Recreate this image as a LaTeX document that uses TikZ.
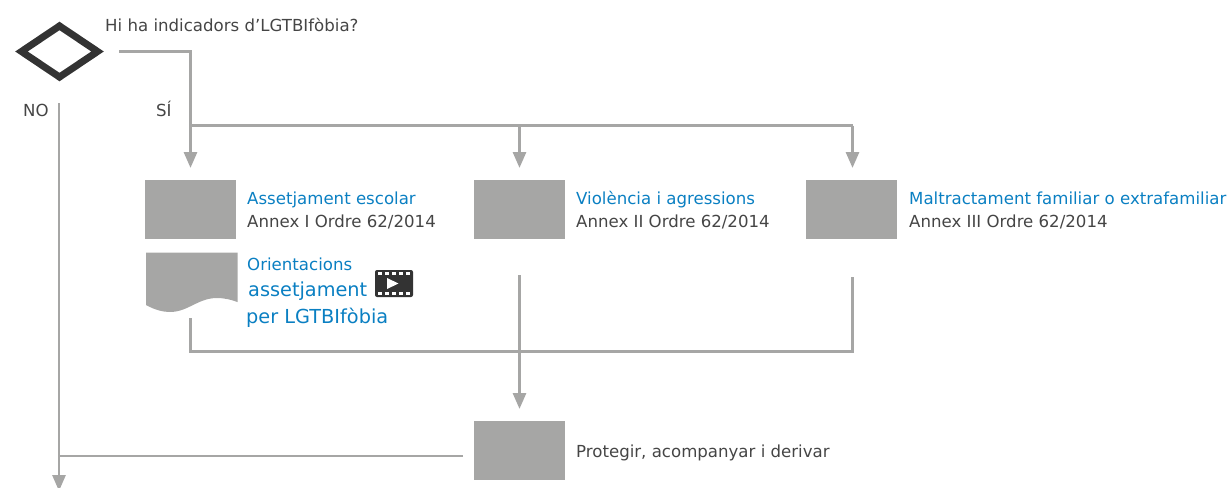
\documentclass[tikz,border=0pt]{standalone}
\usepackage{fontspec}
\setmainfont{DejaVu Sans}
\usetikzlibrary{arrows.meta,shapes.geometric}
\definecolor{linegrey}{HTML}{A6A6A5}
\definecolor{boxgrey}{HTML}{A6A6A5}
\definecolor{darktxt}{HTML}{454545}
\definecolor{bluetxt}{HTML}{0A7FC2}
\definecolor{darkic}{HTML}{333333}
\tikzset{
  x=1pt,y=-1pt,
  conn/.style={draw=linegrey,line width=2.9pt},
  arr/.style={conn,-{Triangle[width=13pt,length=16pt]}},
  grey box/.style={fill=boxgrey,minimum width=91pt,minimum height=59pt,inner sep=0,anchor=north west},
  txt/.style={inner sep=0,anchor=base west,text=darktxt,font=\fontsize{16.6pt}{20pt}\selectfont},
  link/.style={txt,text=bluetxt},
  biglink/.style={txt,text=bluetxt,font=\fontsize{19.3pt}{24pt}\selectfont},
  decision/.style={diamond,draw=darkic,line width=7pt,minimum width=79pt,minimum height=54pt,inner sep=0,aspect=1.46}
}
\begin{document}
\begin{tikzpicture}
\useasboundingbox (0,0) rectangle (1230,487);
\node[decision] (dec) at (59.5,51.5) {};
\node[txt] (q) at (105,32) {Hi ha indicadors d’LGTBIfòbia?};
\node[txt] (no) at (23,116) {NO};
\node[txt] (si) at (156,116) {SÍ};
\node[grey box] (b1) at (145,180) {};
\node[grey box] (b2) at (474,180) {};
\node[grey box] (b3) at (806,180) {};
\node[grey box] (b4) at (474,421) {};
\node[link] (t1a) at (247,204) {Assetjament escolar};
\node[txt] (t1b) at (247,227.5) {Annex I Ordre 62/2014};
\node[link] (t2a) at (576,204) {Violència i agressions};
\node[txt] (t2b) at (576,227.5) {Annex II Ordre 62/2014};
\node[link] (t3a) at (909,204) {Maltractament familiar o extrafamiliar};
\node[txt] (t3b) at (909,227.5) {Annex III Ordre 62/2014};
\node[txt] (t4) at (576,457) {Protegir, acompanyar i derivar};
\node[link] (o1) at (247,270) {Orientacions};
\node[biglink] (o2) at (248,296) {assetjament};
\node[biglink] (o3) at (246,323) {per LGTBIfòbia};
% document shape
\fill[boxgrey] (146,252.5) -- (237.5,252.5) -- (237.5,302)
  .. controls (232,300) and (225,298) .. (217,298)
  .. controls (198,298) and (188,312) .. (170,312)
  .. controls (163,312) and (155,310) .. (146,305) -- cycle;
% video icon
\fill[darkic,rounded corners=2pt] (375,270) rectangle (413,297);
\foreach \x in {377.5,384.5,391.5,398.5,405.5}{
  \fill[white] (\x,272) rectangle ++(4.5,3);
  \fill[white] (\x,292) rectangle ++(4.5,3);
}
\fill[white] (387,278) -- (398.5,283.5) -- (387,289) -- cycle;
% connectors
\coordinate (s0) at (119,51.5);
\coordinate (c0) at (190.5,51.5);
\coordinate (j0) at (190.5,125.5);
\coordinate (e1) at (190.5,168);
\coordinate (j2) at (519.5,125.5);
\coordinate (e2) at (519.5,168);
\coordinate (j3) at (852.5,125.5);
\coordinate (e3) at (852.5,168);
\draw[conn] (s0) -- (c0) -- (j0);
\draw[arr] (j0) -- (e1);
\draw[conn] (j0) -- (j3);
\draw[arr] (j2) -- (e2);
\draw[arr] (j3) -- (e3);
\coordinate (u1) at (190.5,318);
\coordinate (u1b) at (190.5,351.5);
\coordinate (u3) at (852.5,277);
\coordinate (u3b) at (852.5,351.5);
\draw[conn,line join=miter] (u1) -- (u1b) -- (u3b) -- (u3);
\coordinate (u2) at (519.5,275);
\coordinate (e4) at (519.5,409);
\draw[arr] (u2) -- (e4);
\coordinate (n0) at (59,103);
\coordinate (n1) at (59,491);
\draw[arr] (n0) -- (n1);
\coordinate (p0) at (463,456);
\coordinate (p1) at (59,456);
\draw[conn] (p0) -- (p1);
\end{tikzpicture}
\end{document}
